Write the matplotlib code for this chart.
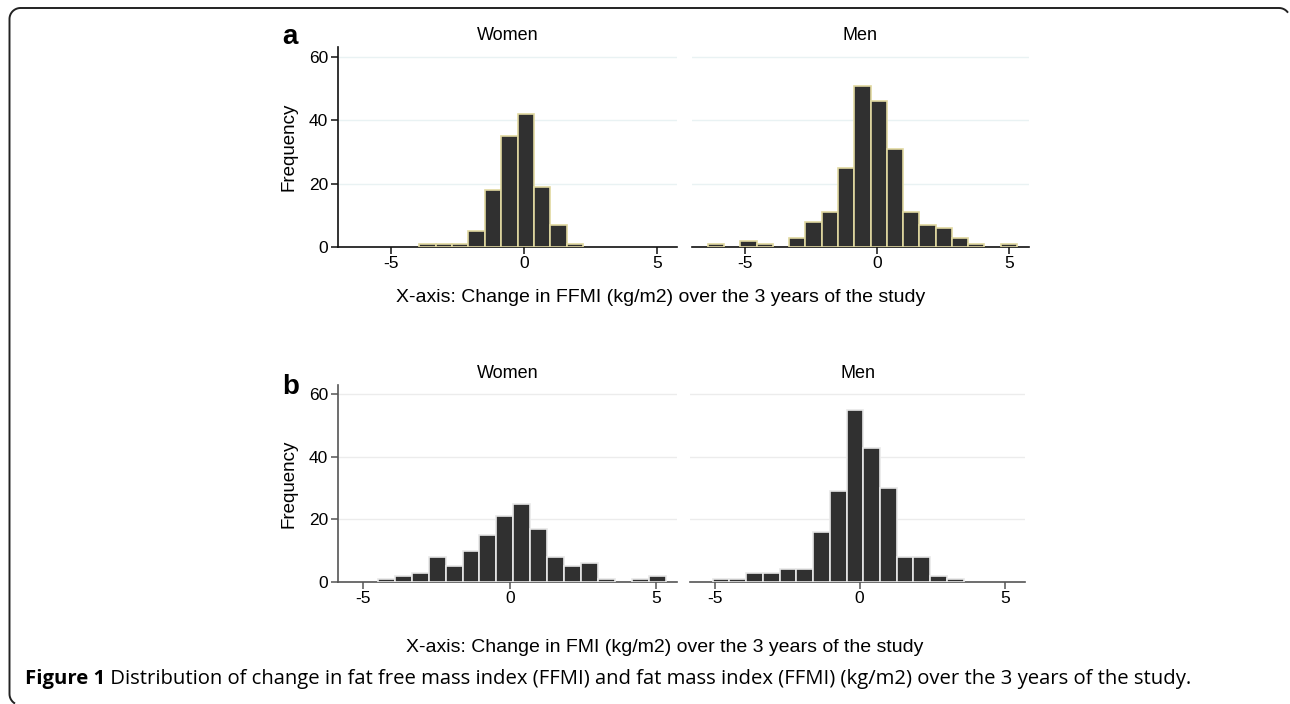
import numpy as np
import matplotlib
matplotlib.use('Agg')
import matplotlib.pyplot as plt
from matplotlib.lines import Line2D

W, H, DPI = 1290, 704, 100

# ── data ──
# panel a: change in FFMI, shared bins
A_START, A_WIDTH = -6.40, 0.616
A_WOMEN = [0, 0, 0, 0, 1, 1, 1, 5, 18, 35, 42, 19, 7, 1, 0, 0, 0, 0, 0]
A_MEN   = [1, 0, 2, 1, 0, 3, 8, 11, 25, 51, 46, 31, 11, 7, 6, 3, 1, 0, 1]
# panel b: change in FMI, shared bins
B_START, B_WIDTH = -5.07, 0.577
B_WOMEN = [0, 1, 2, 3, 8, 5, 10, 15, 21, 25, 17, 8, 5, 6, 1, 0, 1, 2]
B_MEN   = [1, 1, 3, 3, 4, 4, 16, 29, 55, 43, 30, 8, 8, 2, 1, 0, 0, 0]

YTICKS = [0, 20, 40, 60]
XTICKS = [-5, 0, 5]
GROUPS = ['Women', 'Men']

XLAB_A = 'X-axis: Change in FFMI (kg/m2) over the 3 years of the study'
XLAB_B = 'X-axis: Change in FMI (kg/m2) over the 3 years of the study'
CAP_BOLD = 'Figure 1'
CAP_REST = (' Distribution of change in fat free mass index (FFMI) and fat mass '
            'index (FFMI) (kg/m2) over the 3 years of the study.')

FONT = 'Liberation Sans'
BAR = '#303030'


def box(x0, y0, x1, y1):
    """pixel box (top-left origin) -> figure fraction rect"""
    return [x0 / W, 1 - y1 / H, (x1 - x0) / W, (y1 - y0) / H]


def arc(cx, cy, r, a0, a1, n=20):
    t = np.radians(np.linspace(a0, a1, n))
    return list(cx + r * np.cos(t)), list(cy + r * np.sin(t))


def panel(fig, rect, counts, start, width, xlim, ylim, edge, grid, spine,
          title, first):
    ax = fig.add_axes(box(*rect))
    x = [start + i * width for i, c in enumerate(counts) if c > 0]
    h = [c for c in counts if c > 0]
    ax.bar(x, h, width=width, align='edge', color=BAR, edgecolor=edge,
           linewidth=1.2, zorder=3)
    ax.set_xlim(*xlim); ax.set_ylim(*ylim)
    for s in ['top', 'right']:
        ax.spines[s].set_visible(False)
    ax.spines['bottom'].set_color(spine)
    ax.spines['left'].set_color(spine)
    ax.spines['bottom'].set_linewidth(1.2)
    ax.spines['left'].set_linewidth(1.2)
    for g in YTICKS[1:]:
        ax.axhline(g, color=grid, lw=1.0, zorder=1)
    ax.set_xticks(XTICKS)
    ax.set_xticklabels([str(t) for t in XTICKS], fontsize=12.5, family=FONT)
    ax.tick_params(axis='x', length=5, width=1.1, color=spine, pad=1.5)
    if first:
        ax.set_yticks(YTICKS)
        ax.set_yticklabels([str(t) for t in YTICKS], fontsize=12.5, family=FONT)
        ax.tick_params(axis='y', length=5, width=1.1, color=spine, pad=2)
        ax.set_ylabel('Frequency', fontsize=13.5, family=FONT, labelpad=8)
    else:
        ax.spines['left'].set_visible(False)
        ax.set_yticks([])
    ax.set_title(title, fontsize=13, family=FONT, pad=5)
    return ax


fig = plt.figure(figsize=(W / DPI, H / DPI), dpi=DPI)

# outer frame, rounded corners; right and bottom edges run off the picture
fx, fy = arc(1279, 19, 11, -35, -90, 8)
x2, y2 = arc(20.5, 19, 11, -90, -180)
x3, y3 = arc(20.5, 694, 11, 180, 120, 8)
fx += x2 + x3
fy += y2 + y3
fig.add_artist(Line2D([x / W for x in fx], [1 - y / H for y in fy],
                      transform=fig.transFigure, color='#222222', lw=1.4,
                      solid_capstyle='butt'))

# panel a
a_xlim = (-7.0, 5.76)
panel(fig, (338, 47, 677, 247), A_WOMEN, A_START, A_WIDTH, a_xlim, (0, 63.2),
      '#e0d8a0', '#e9f2f3', '#111111', GROUPS[0], True)
panel(fig, (692, 47, 1029, 247), A_MEN, A_START, A_WIDTH, a_xlim, (0, 63.2),
      '#e0d8a0', '#e9f2f3', '#111111', GROUPS[1], False)
fig.text(661 / W, 1 - 297 / H, XLAB_A, fontsize=14, family=FONT,
         ha='center', va='center')
fig.text(282 / W, 1 - 37 / H, 'a', fontsize=20, weight='bold', family=FONT,
         ha='left', va='center')

# panel b
b_xlim = (-5.85, 5.7)
panel(fig, (338, 385, 677, 582), B_WOMEN, B_START, B_WIDTH, b_xlim, (0, 63),
      '#e8e8e8', '#ececec', '#555555', GROUPS[0], True)
panel(fig, (690, 385, 1025, 582), B_MEN, B_START, B_WIDTH, b_xlim, (0, 63),
      '#e8e8e8', '#ececec', '#555555', GROUPS[1], False)
fig.text(665 / W, 1 - 648 / H, XLAB_B, fontsize=14, family=FONT,
         ha='center', va='center')
fig.text(282 / W, 1 - 387 / H, 'b', fontsize=20, weight='bold', family=FONT,
         ha='left', va='center')

# caption: bold lead-in, then regular text
cap_font = 'Open Sans'
t1 = fig.text(25 / W, 1 - 679 / H, CAP_BOLD, fontsize=14.6, weight='bold',
              family=cap_font, ha='left', va='center')
fig.canvas.draw()
bb = t1.get_window_extent(fig.canvas.get_renderer())
fig.text(bb.x1 / W, 1 - 679 / H, CAP_REST, fontsize=14.6, family=cap_font,
         ha='left', va='center')

fig.savefig('out.png', dpi=DPI)
